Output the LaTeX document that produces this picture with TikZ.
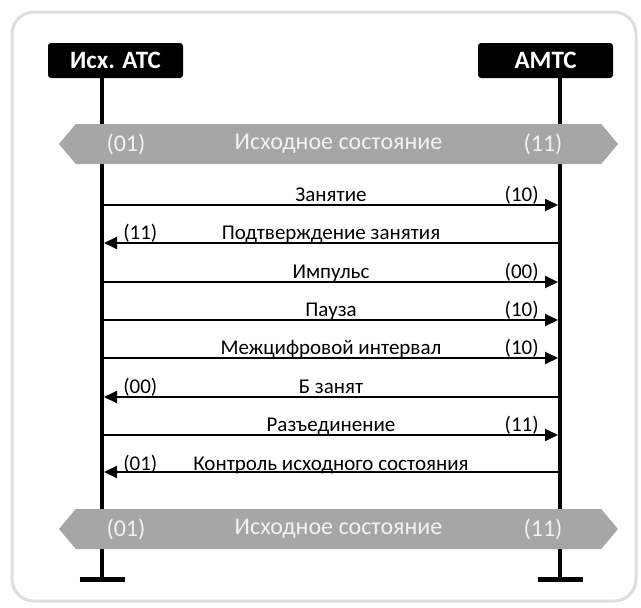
\documentclass[tikz,border=0pt]{standalone}
\usepackage{fontspec}
\setmainfont{Carlito}
\usetikzlibrary{shapes.symbols, arrows.meta, positioning}
\definecolor{framegray}{HTML}{DEDEDE}
\definecolor{bandgray}{HTML}{A6A6A6}
\definecolor{bandtext}{HTML}{F2F2F2}
\tikzset{
    station/.style = {rectangle, fill=black, text=white, rounded corners=3pt, minimum width=135pt, minimum height=35pt, inner sep=0pt, font=\fontsize{25}{28}\selectfont\bfseries},
    lifeline/.style = {line width=4pt},
    endbar/.style = {line width=5pt},
    band/.style = {signal, signal to=west and east, signal pointer angle=100, fill=bandgray, minimum width=559pt, minimum height=40pt, inner sep=0pt},
    bandlabel/.style = {text=bandtext, inner sep=0pt, font=\fontsize{24}{28}\selectfont},
    msg/.style = {line width=2pt, -{Triangle[length=13pt, width=12pt]}},
    msglabel/.style = {anchor=base, inner sep=0pt, font=\fontsize{21}{25}\selectfont}
}
\begin{document}
\begin{tikzpicture}[x=1pt, y=-1pt]
        \useasboundingbox (0,0) rectangle (641,608);
        % Frame
        \draw[framegray, line width=3pt, rounded corners=22pt] (12,12) rectangle (636,601);

        % Nodes
        \node[station] (src) at (115.5,60.5) {Исх. АТС};
        \node[station] (dst) at (545.5,60.5) {АМТС};
        \coordinate (srctop) at (102,78);
        \coordinate (dsttop) at (560,78);
        \coordinate (srcend) at (102,579);
        \coordinate (dstend) at (560,579);

        % Lifelines
        \draw[lifeline] (srctop) -- (srcend);
        \draw[lifeline] (dsttop) -- (dstend);
        \draw[endbar] ([xshift=-22.5pt]srcend) -- ([xshift=22.5pt]srcend);
        \draw[endbar] ([xshift=-22.5pt]dstend) -- ([xshift=22.5pt]dstend);

        % Initial state bands
        \node[band] (init1) at (338.5,144) {};
        \node[bandlabel] at (init1) {Исходное состояние};
        \node[bandlabel] at (126,144) {(01)};
        \node[bandlabel] at (543,144) {(11)};
        \node[band] (init2) at (338.5,529) {};
        \node[bandlabel] at (init2) {Исходное состояние};
        \node[bandlabel] at (126,529) {(01)};
        \node[bandlabel] at (543,529) {(11)};

        % Message ends
        \coordinate (s1) at (104,205);  \coordinate (d1) at (558,205);
        \coordinate (s2) at (104,243);  \coordinate (d2) at (558,243);
        \coordinate (s3) at (104,282);  \coordinate (d3) at (558,282);
        \coordinate (s4) at (104,320);  \coordinate (d4) at (558,320);
        \coordinate (s5) at (104,358);  \coordinate (d5) at (558,358);
        \coordinate (s6) at (104,397);  \coordinate (d6) at (558,397);
        \coordinate (s7) at (104,435);  \coordinate (d7) at (558,435);
        \coordinate (s8) at (104,472);  \coordinate (d8) at (558,472);

        % Edges
        \draw[msg] (s1) -- (d1) node[msglabel, midway, yshift=4pt] {Занятие} node[msglabel, pos=0.92, yshift=4pt] {(10)};
        \draw[msg] (d2) -- (s2) node[msglabel, midway, yshift=4pt] {Подтверждение занятия} node[msglabel, pos=0.92, yshift=4pt] {(11)};
        \draw[msg] (s3) -- (d3) node[msglabel, midway, yshift=4pt] {Импульс} node[msglabel, pos=0.92, yshift=4pt] {(00)};
        \draw[msg] (s4) -- (d4) node[msglabel, midway, yshift=4pt] {Пауза} node[msglabel, pos=0.92, yshift=4pt] {(10)};
        \draw[msg] (s5) -- (d5) node[msglabel, midway, yshift=4pt] {Межцифровой интервал} node[msglabel, pos=0.92, yshift=4pt] {(10)};
        \draw[msg] (d6) -- (s6) node[msglabel, midway, yshift=4pt] {Б занят} node[msglabel, pos=0.92, yshift=4pt] {(00)};
        \draw[msg] (s7) -- (d7) node[msglabel, midway, yshift=4pt] {Разъединение} node[msglabel, pos=0.92, yshift=4pt] {(11)};
        \draw[msg] (d8) -- (s8) node[msglabel, midway, yshift=2pt] {Контроль исходного состояния} node[msglabel, pos=0.92, yshift=2pt] {(01)};

    \end{tikzpicture}
\end{document}
